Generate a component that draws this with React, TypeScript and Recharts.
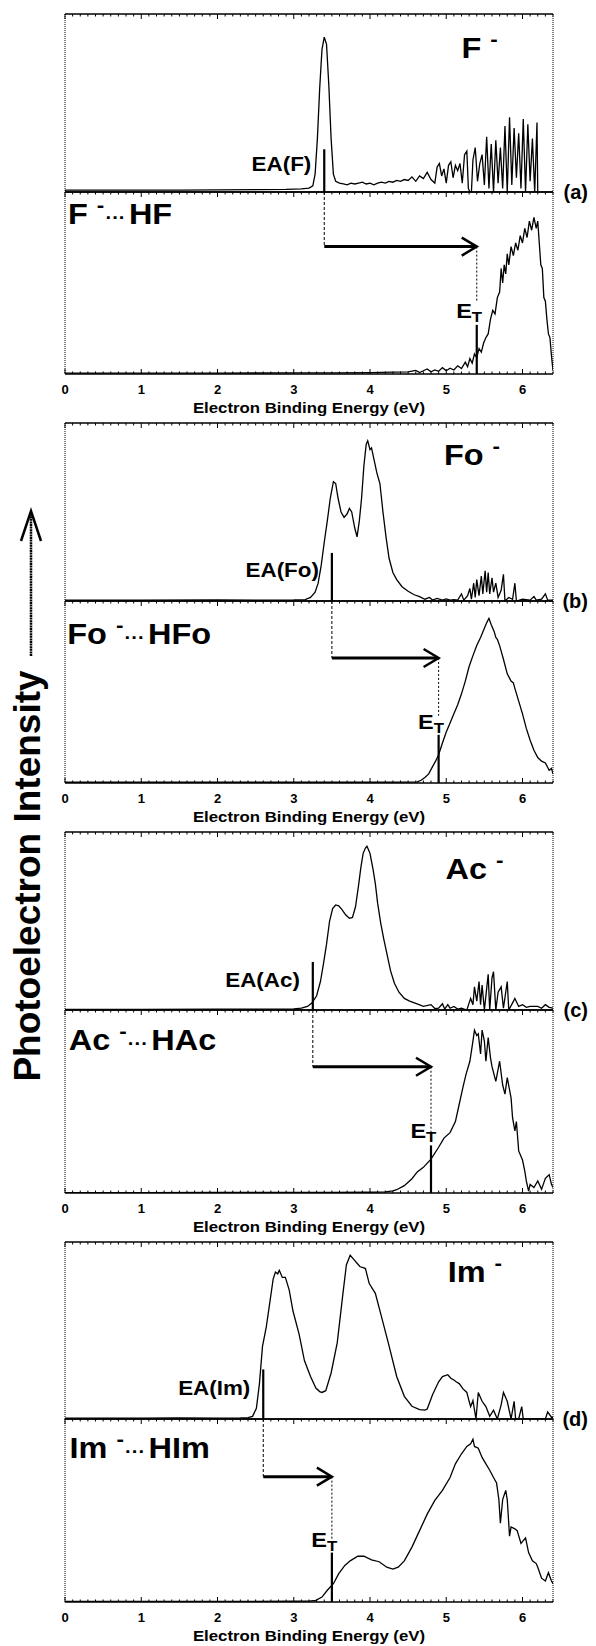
import React from "react";
import { ComposedChart, Line, XAxis, YAxis, ReferenceLine, ReferenceDot } from "recharts";

type Pt = [number, number];

const FONT = "'Liberation Sans', Arial, Helvetica, sans-serif";

const X_DOMAIN: [number, number] = [0, 6.4];
const MAJOR_TICKS = [0, 1, 2, 3, 4, 5, 6];
const MINOR_TICKS = [
  0, 0.1, 0.2, 0.3, 0.4, 0.5, 0.6, 0.7, 0.8, 0.9, 1, 1.1, 1.2, 1.3, 1.4, 1.5, 1.6, 1.7, 1.8, 1.9,
  2, 2.1, 2.2, 2.3, 2.4, 2.5, 2.6, 2.7, 2.8, 2.9, 3, 3.1, 3.2, 3.3, 3.4, 3.5, 3.6, 3.7, 3.8, 3.9,
  4, 4.1, 4.2, 4.3, 4.4, 4.5, 4.6, 4.7, 4.8, 4.9, 5, 5.1, 5.2, 5.3, 5.4, 5.5, 5.6, 5.7, 5.8, 5.9,
  6, 6.1, 6.2, 6.3, 6.4,
];
const X_LABEL = "Electron Binding Energy (eV)";
const Y_LABEL = "Photoelectron Intensity";
const PANEL_LABELS = ["(a)", "(b)", "(c)", "(d)"];
const ANION_NAMES = ["F", "Fo", "Ac", "Im"];
const PARTNER_NAMES = ["HF", "HFo", "HAc", "HIm"];

// annotation values (eV)
const EA_VALUES = [3.4, 3.5, 3.25, 2.6];
const ET_VALUES = [5.4, 4.9, 4.8, 3.5];
// annotation heights (fraction of each half)
const EA_MARK_HEIGHT = [0.24, 0.27, 0.27, 0.28];
const ET_MARK_HEIGHT = [0.27, 0.265, 0.26, 0.27];
const ARROW_LEVEL = [0.7, 0.687, 0.69, 0.685];
const ET_GUIDE_BOTTOM = [0.4, 0.37, 0.33, 0.34];
const ET_LABEL_Y = [0.35, 0.34, 0.34, 0.34];
const EA_LABEL_Y = [0.16, 0.175, 0.17, 0.175];
const ANION_TITLE_POS: Pt[] = [[5.2, 0.81], [4.97, 0.82], [4.99, 0.79], [5.02, 0.83]];
const DIMER_TITLE_POS: Pt[] = [[0.04, 0.88], [0.03, 0.82], [0.05, 0.835], [0.06, 0.84]];

const F_ANION: Pt[] = [
  [0, 0.01], [0.5, 0.01], [1.0, 0.011], [1.5, 0.01], [2.0, 0.012], [2.5, 0.013], [2.9, 0.015], [3.1, 0.018],
  [3.2, 0.022], [3.25, 0.035], [3.28, 0.1], [3.31, 0.3], [3.34, 0.58], [3.37, 0.8], [3.4, 0.87], [3.43, 0.83],
  [3.46, 0.6], [3.49, 0.3], [3.52, 0.1], [3.55, 0.06], [3.6, 0.05], [3.65, 0.045], [3.7, 0.04], [3.75, 0.05],
  [3.8, 0.045], [3.85, 0.05], [3.9, 0.055], [3.95, 0.045], [4.0, 0.05], [4.05, 0.04], [4.1, 0.05], [4.15, 0.055],
  [4.2, 0.05], [4.25, 0.06], [4.3, 0.055], [4.35, 0.065], [4.4, 0.06], [4.45, 0.07], [4.5, 0.065], [4.55, 0.085],
  [4.6, 0.06], [4.65, 0.09], [4.7, 0.075], [4.75, 0.11], [4.8, 0.07], [4.85, 0.05], [4.88, 0.14], [4.91, 0.16],
  [4.94, 0.09], [4.97, 0.13], [5.0, 0.05], [5.03, 0.15], [5.06, 0.17], [5.09, 0.08], [5.12, 0.15], [5.15, 0.12],
  [5.18, 0.16], [5.21, 0.05], [5.24, 0.21], [5.27, 0.23], [5.29, 0.02], [5.31, 0.0], [5.33, 0.0], [5.35, 0.18],
  [5.38, 0.25], [5.41, 0.06], [5.44, 0.16], [5.47, 0.21], [5.5, 0.04], [5.53, 0.31], [5.56, 0.02], [5.59, 0.27],
  [5.62, 0.0], [5.65, 0.29], [5.68, 0.05], [5.71, 0.25], [5.74, 0.02], [5.77, 0.37], [5.8, 0.0], [5.83, 0.42],
  [5.86, 0.04], [5.89, 0.36], [5.92, 0.08], [5.95, 0.33], [5.98, 0.02], [6.01, 0.41], [6.04, 0.0], [6.07, 0.38],
  [6.1, 0.06], [6.13, 0.3], [6.16, 0.0], [6.19, 0.39], [6.2, 0.0],
];

const F_DIMER: Pt[] = [
  [0, 0.005], [1, 0.005], [2, 0.005], [3, 0.006], [3.5, 0.006], [4.0, 0.008], [4.3, 0.01], [4.5, 0.012],
  [4.6, 0.02], [4.65, 0.008], [4.7, 0.018], [4.75, 0.028], [4.8, 0.012], [4.85, 0.022], [4.9, 0.015], [4.95, 0.035],
  [5.0, 0.018], [5.05, 0.032], [5.1, 0.022], [5.15, 0.045], [5.2, 0.03], [5.25, 0.065], [5.28, 0.04], [5.31, 0.085],
  [5.34, 0.06], [5.37, 0.11], [5.4, 0.09], [5.43, 0.14], [5.46, 0.12], [5.49, 0.17], [5.52, 0.2], [5.55, 0.22],
  [5.58, 0.3], [5.61, 0.35], [5.64, 0.33], [5.67, 0.42], [5.7, 0.45], [5.72, 0.58], [5.74, 0.5], [5.76, 0.6],
  [5.78, 0.55], [5.8, 0.66], [5.82, 0.6], [5.85, 0.7], [5.88, 0.65], [5.91, 0.72], [5.94, 0.68], [5.97, 0.76],
  [6.0, 0.72], [6.03, 0.8], [6.06, 0.75], [6.09, 0.84], [6.12, 0.79], [6.15, 0.86], [6.18, 0.8], [6.2, 0.84],
  [6.22, 0.72], [6.24, 0.6], [6.26, 0.58], [6.28, 0.42], [6.3, 0.4], [6.32, 0.3], [6.34, 0.22], [6.36, 0.2],
  [6.38, 0.1], [6.4, 0.02],
];

const FO_ANION: Pt[] = [
  [0, 0.005], [1, 0.005], [2, 0.006], [2.5, 0.005], [3.0, 0.006], [3.15, 0.008], [3.22, 0.02], [3.28, 0.05],
  [3.32, 0.1], [3.36, 0.2], [3.4, 0.33], [3.44, 0.45], [3.48, 0.58], [3.52, 0.67], [3.55, 0.66], [3.58, 0.58],
  [3.62, 0.5], [3.66, 0.47], [3.7, 0.49], [3.73, 0.52], [3.76, 0.5], [3.8, 0.41], [3.83, 0.36], [3.86, 0.45],
  [3.89, 0.58], [3.92, 0.76], [3.95, 0.88], [3.97, 0.9], [4.0, 0.85], [4.02, 0.86], [4.05, 0.8], [4.09, 0.72],
  [4.13, 0.66], [4.17, 0.5], [4.21, 0.36], [4.25, 0.24], [4.3, 0.16], [4.35, 0.12], [4.42, 0.08], [4.5, 0.055],
  [4.58, 0.035], [4.65, 0.025], [4.72, 0.01], [4.78, 0.02], [4.82, 0.005], [4.88, 0.015], [4.95, 0.005], [5.0, 0.012],
  [5.05, 0.005], [5.1, 0.008], [5.15, 0.005], [5.2, 0.04], [5.23, 0.005], [5.28, 0.03], [5.31, 0.07], [5.33, 0.01],
  [5.36, 0.1], [5.38, 0.02], [5.4, 0.12], [5.43, 0.03], [5.46, 0.14], [5.48, 0.04], [5.51, 0.17], [5.53, 0.05],
  [5.55, 0.16], [5.57, 0.04], [5.6, 0.13], [5.62, 0.05], [5.65, 0.1], [5.68, 0.02], [5.72, 0.06], [5.75, 0.15],
  [5.77, 0.0], [5.82, 0.02], [5.87, 0.01], [5.9, 0.1], [5.92, 0.0], [6.0, 0.01], [6.1, 0.005], [6.15, 0.025],
  [6.18, 0.005], [6.25, 0.01], [6.3, 0.04], [6.33, 0.005], [6.4, 0.005],
];

const FO_DIMER: Pt[] = [
  [0, 0.004], [1, 0.004], [2, 0.004], [3, 0.004], [4, 0.004], [4.5, 0.005], [4.62, 0.006], [4.67, 0.015],
  [4.72, 0.03], [4.77, 0.05], [4.82, 0.09], [4.86, 0.12], [4.9, 0.155], [4.95, 0.22], [5.0, 0.28], [5.05, 0.33],
  [5.1, 0.38], [5.15, 0.43], [5.2, 0.49], [5.25, 0.56], [5.3, 0.64], [5.35, 0.7], [5.4, 0.755], [5.45, 0.8],
  [5.5, 0.85], [5.53, 0.88], [5.56, 0.905], [5.59, 0.87], [5.61, 0.85], [5.63, 0.83], [5.65, 0.8], [5.67, 0.79],
  [5.7, 0.755], [5.75, 0.68], [5.8, 0.6], [5.85, 0.56], [5.88, 0.55], [5.9, 0.52], [5.95, 0.45], [6.0, 0.38],
  [6.05, 0.3], [6.1, 0.235], [6.15, 0.18], [6.2, 0.14], [6.25, 0.12], [6.3, 0.11], [6.35, 0.07], [6.38, 0.08],
  [6.4, 0.05],
];

const AC_ANION: Pt[] = [
  [0, 0.004], [1, 0.004], [2, 0.005], [2.5, 0.005], [3.0, 0.006], [3.1, 0.01], [3.18, 0.02], [3.24, 0.04],
  [3.3, 0.08], [3.35, 0.16], [3.39, 0.26], [3.43, 0.37], [3.47, 0.5], [3.51, 0.57], [3.55, 0.59], [3.59, 0.585],
  [3.63, 0.565], [3.68, 0.535], [3.73, 0.515], [3.77, 0.52], [3.81, 0.58], [3.85, 0.7], [3.88, 0.8], [3.91, 0.88],
  [3.94, 0.91], [3.96, 0.92], [3.98, 0.9], [4.0, 0.88], [4.04, 0.79], [4.07, 0.71], [4.1, 0.6], [4.14, 0.49],
  [4.18, 0.4], [4.22, 0.32], [4.27, 0.22], [4.32, 0.15], [4.38, 0.1], [4.45, 0.065], [4.52, 0.05], [4.6, 0.037],
  [4.7, 0.02], [4.8, 0.03], [4.85, 0.008], [4.9, 0.01], [4.95, 0.035], [4.98, 0.005], [5.02, 0.03], [5.05, 0.01],
  [5.1, 0.02], [5.15, 0.005], [5.2, 0.01], [5.27, 0.0], [5.3, 0.04], [5.32, 0.065], [5.35, 0.03], [5.37, 0.13],
  [5.4, 0.05], [5.43, 0.16], [5.45, 0.03], [5.47, 0.14], [5.5, 0.0], [5.53, 0.12], [5.55, 0.2], [5.57, 0.0],
  [5.6, 0.18], [5.62, 0.215], [5.65, 0.0], [5.68, 0.1], [5.72, 0.13], [5.75, 0.01], [5.8, 0.16], [5.82, 0.0],
  [5.87, 0.04], [5.9, 0.065], [5.95, 0.02], [6.0, 0.03], [6.05, 0.015], [6.1, 0.02], [6.2, 0.02], [6.25, 0.01],
  [6.3, 0.03], [6.35, 0.015], [6.4, 0.01],
];

const AC_DIMER: Pt[] = [
  [0, 0.002], [1, 0.002], [2, 0.003], [3, 0.003], [3.5, 0.003], [4.0, 0.004], [4.2, 0.006], [4.3, 0.012],
  [4.35, 0.018], [4.45, 0.04], [4.55, 0.078], [4.62, 0.115], [4.7, 0.14], [4.8, 0.185], [4.9, 0.25], [4.97, 0.3],
  [5.05, 0.33], [5.12, 0.39], [5.17, 0.485], [5.22, 0.58], [5.26, 0.65], [5.31, 0.72], [5.35, 0.83], [5.37, 0.89],
  [5.4, 0.86], [5.42, 0.87], [5.45, 0.76], [5.47, 0.89], [5.5, 0.83], [5.52, 0.72], [5.55, 0.85], [5.58, 0.74],
  [5.6, 0.69], [5.65, 0.61], [5.7, 0.72], [5.74, 0.59], [5.77, 0.54], [5.8, 0.63], [5.85, 0.52], [5.87, 0.41],
  [5.9, 0.34], [5.92, 0.39], [5.95, 0.23], [6.0, 0.18], [6.03, 0.12], [6.05, 0.066], [6.08, 0.01], [6.1, 0.047],
  [6.15, 0.03], [6.2, 0.066], [6.25, 0.02], [6.3, 0.08], [6.35, 0.1], [6.38, 0.047], [6.4, 0.03],
];

const IM_ANION: Pt[] = [
  [0, 0.005], [1, 0.005], [1.5, 0.006], [2.0, 0.005], [2.3, 0.006], [2.4, 0.008], [2.46, 0.015], [2.51, 0.06],
  [2.55, 0.2], [2.59, 0.41], [2.64, 0.52], [2.69, 0.67], [2.73, 0.79], [2.76, 0.83], [2.79, 0.82], [2.81, 0.84],
  [2.83, 0.82], [2.85, 0.8], [2.89, 0.8], [2.94, 0.73], [2.99, 0.61], [3.07, 0.48], [3.14, 0.33], [3.22, 0.24],
  [3.29, 0.175], [3.34, 0.155], [3.37, 0.15], [3.42, 0.16], [3.49, 0.26], [3.57, 0.43], [3.64, 0.69], [3.69, 0.87],
  [3.74, 0.925], [3.79, 0.9], [3.83, 0.88], [3.87, 0.86], [3.91, 0.855], [3.94, 0.85], [3.99, 0.765], [4.07, 0.71],
  [4.14, 0.595], [4.24, 0.43], [4.35, 0.24], [4.45, 0.128], [4.55, 0.072], [4.65, 0.053], [4.72, 0.05], [4.75, 0.056],
  [4.82, 0.137], [4.9, 0.21], [4.95, 0.24], [5.02, 0.25], [5.06, 0.23], [5.1, 0.22], [5.13, 0.21], [5.17, 0.2],
  [5.22, 0.17], [5.27, 0.15], [5.3, 0.1], [5.32, 0.07], [5.35, 0.105], [5.39, 0.0], [5.42, 0.15], [5.47, 0.1],
  [5.52, 0.07], [5.57, 0.015], [5.62, 0.05], [5.67, 0.0], [5.72, 0.08], [5.75, 0.15], [5.8, 0.1], [5.85, 0.0],
  [5.89, 0.1], [5.91, 0.0], [5.95, 0.0], [5.99, 0.07], [6.01, 0.0], [6.3, 0.0], [6.33, 0.04], [6.38, 0.01],
  [6.4, 0.01],
];

const IM_DIMER: Pt[] = [
  [0, 0.003], [1, 0.003], [2, 0.003], [3, 0.004], [3.2, 0.005], [3.29, 0.009], [3.37, 0.027], [3.44, 0.064],
  [3.52, 0.1], [3.59, 0.155], [3.67, 0.2], [3.74, 0.225], [3.84, 0.25], [3.92, 0.25], [4.02, 0.23], [4.12, 0.22],
  [4.22, 0.19], [4.3, 0.18], [4.37, 0.19], [4.45, 0.225], [4.55, 0.3], [4.65, 0.39], [4.75, 0.48], [4.85, 0.555],
  [4.95, 0.61], [5.05, 0.68], [5.12, 0.755], [5.2, 0.81], [5.27, 0.85], [5.32, 0.865], [5.35, 0.89], [5.37, 0.85],
  [5.42, 0.84], [5.47, 0.79], [5.52, 0.755], [5.57, 0.72], [5.62, 0.68], [5.66, 0.65], [5.69, 0.56], [5.71, 0.43],
  [5.74, 0.56], [5.78, 0.61], [5.8, 0.56], [5.83, 0.36], [5.85, 0.41], [5.9, 0.4], [5.93, 0.39], [5.98, 0.32],
  [6.04, 0.35], [6.08, 0.27], [6.13, 0.225], [6.18, 0.21], [6.2, 0.19], [6.25, 0.13], [6.3, 0.115], [6.34, 0.16],
  [6.38, 0.115], [6.4, 0.1],
];

const ANION_SPECTRA = [F_ANION, FO_ANION, AC_ANION, IM_ANION];
const DIMER_SPECTRA = [F_DIMER, FO_DIMER, AC_DIMER, IM_DIMER];

// layout (page pixels)
const PANEL_TOPS = [14, 423, 832, 1242];
const PANEL_MIDS = [192, 601, 1010, 1419];
const PANEL_BOTTOMS = [374, 783, 1193, 1602];
const CHART_W = 580;
const PAGE_H = 1638;
const MARGIN_L = 57;
const MARGIN_R = 35;
const PAD = 5;
const BOTTOM_AXIS_H = 46;
const STRETCH = 1.12;

const AXIS_LINE = { stroke: "#000", strokeWidth: 1.3 };
const SIDE_LINE = { stroke: "#000", strokeWidth: 1, strokeDasharray: "1 1" };

function makeTick(dir: number, labels: boolean) {
  return (props: any) => {
    const { x, y, payload } = props;
    const v = Number(payload && payload.value);
    const major = Math.abs(v - Math.round(v)) < 1e-6;
    const len = major ? 5 : 2.5;
    return (
      <g>
        <line x1={x} x2={x} y1={y} y2={y + dir * len} stroke="#000" strokeWidth={1} />
        {labels && major ? (
          <text x={x} y={y + 20} textAnchor="middle" fontSize={13} fontWeight="bold" fontFamily={FONT} fill="#000">
            {String(Math.round(v))}
          </text>
        ) : null}
      </g>
    );
  };
}
const TICK_DOWN = makeTick(1, false);
const TICK_UP_LABELED = makeTick(-1, true);

const ArrowShape = (p: any) => {
  const { x1, y1, x2, y2 } = p;
  const L = 15;
  const W = 9;
  return (
    <g>
      <line x1={x1} y1={y1} x2={x2 - 1} y2={y2} stroke="#000" strokeWidth={3} />
      <polyline points={`${x2 - L},${y2 - W} ${x2},${y2} ${x2 - L},${y2 + W}`} fill="none" stroke="#000" strokeWidth={2.5} />
    </g>
  );
};

function Stretched({ x, y, children }: { x: number; y: number; children: React.ReactNode }) {
  return <g transform={`translate(${x},${y}) scale(${STRETCH},1)`}>{children}</g>;
}

const eaLabel = (name: string) => (p: any) => (
  <Stretched x={p.cx} y={p.cy}>
    <text x={0} y={0} textAnchor="end" dominantBaseline="central" fontSize={20} fontWeight="bold" fontFamily={FONT} fill="#000">
      {`EA(${name})`}
    </text>
  </Stretched>
);

const etLabel = (p: any) => (
  <Stretched x={p.cx} y={p.cy}>
    <text x={0} y={0} textAnchor="middle" dominantBaseline="central" fontSize={21} fontWeight="bold" fontFamily={FONT} fill="#000">
      <tspan>E</tspan>
      <tspan fontSize={15} dy={6}>T</tspan>
    </text>
  </Stretched>
);

const anionTitle = (name: string) => (p: any) => (
  <Stretched x={p.cx} y={p.cy + 10}>
    <text x={0} y={0} textAnchor="start" fontSize={29} fontWeight="bold" fontFamily={FONT} fill="#000">
      <tspan>{name}</tspan>
      <tspan dx={8} dy={-12} fontSize={20}>-</tspan>
    </text>
  </Stretched>
);

const dimerTitle = (name: string, partner: string) => (p: any) => (
  <Stretched x={p.cx} y={p.cy + 10}>
    <text x={0} y={0} textAnchor="start" fontSize={29} fontWeight="bold" fontFamily={FONT} fill="#000">
      <tspan>{name}</tspan>
      <tspan dx={8} dy={-12} fontSize={20}>-</tspan>
      <tspan dx={1} dy={12} fontSize={18}>{"\u00B7\u00B7\u00B7"}</tspan>
      <tspan dx={3}>{partner}</tspan>
    </text>
  </Stretched>
);

const xAxisTitle = (p: any) => {
  const vb = p.viewBox || {};
  const cx = vb.x + vb.width / 2;
  const by = vb.y + 39;
  return (
    <Stretched x={cx} y={by}>
      <text x={0} y={0} textAnchor="middle" fontSize={15} fontWeight="bold" fontFamily={FONT} fill="#000">
        {X_LABEL}
      </text>
    </Stretched>
  );
};

function sideAxes() {
  return [
    <YAxis key="yl" type="number" domain={[0, 1]} width={1} tick={false} tickLine={false} axisLine={SIDE_LINE} allowDataOverflow />,
    <YAxis key="yr" yAxisId="r" orientation="right" type="number" domain={[0, 1]} width={1} tick={false} tickLine={false} axisLine={SIDE_LINE} allowDataOverflow />,
  ];
}

function topAxis() {
  return (
    <XAxis
      xAxisId="top"
      orientation="top"
      dataKey="x"
      type="number"
      domain={X_DOMAIN}
      ticks={MINOR_TICKS}
      interval={0}
      tick={TICK_DOWN}
      tickLine={false}
      tickSize={0}
      tickMargin={0}
      height={1}
      axisLine={AXIS_LINE}
      allowDataOverflow
    />
  );
}

function UpperChart({ i }: { i: number }) {
  const top = PANEL_TOPS[i];
  const mid = PANEL_MIDS[i];
  const rows = ANION_SPECTRA[i].map(([x, y]) => ({ x, y }));
  const ea = EA_VALUES[i];
  return (
    <div style={{ position: "absolute", left: 0, top: top - 8 - PAD }}>
      <ComposedChart width={CHART_W} height={mid - top + 2 * PAD} data={rows} margin={{ top: PAD - 1, bottom: PAD - 1, left: MARGIN_L - 1, right: MARGIN_R - 1 }}>
        <XAxis dataKey="x" type="number" domain={X_DOMAIN} ticks={MAJOR_TICKS} tick={false} tickLine={false} height={1} axisLine={AXIS_LINE} allowDataOverflow />
        {topAxis()}
        {sideAxes()}
        <Line dataKey="y" type="linear" stroke="#000" strokeWidth={1.3} dot={false} isAnimationActive={false} />
        <ReferenceLine segment={[{ x: ea, y: 0 }, { x: ea, y: EA_MARK_HEIGHT[i] }]} stroke="#000" strokeWidth={2.2} />
        <ReferenceDot x={ea - 0.17} y={EA_LABEL_Y[i]} r={1} shape={eaLabel(ANION_NAMES[i])} />
        <ReferenceDot x={ANION_TITLE_POS[i][0]} y={ANION_TITLE_POS[i][1]} r={1} shape={anionTitle(ANION_NAMES[i])} />
      </ComposedChart>
    </div>
  );
}

function LowerChart({ i }: { i: number }) {
  const mid = PANEL_MIDS[i];
  const bot = PANEL_BOTTOMS[i];
  const rows = DIMER_SPECTRA[i].map(([x, y]) => ({ x, y }));
  const ea = EA_VALUES[i];
  const et = ET_VALUES[i];
  const lvl = ARROW_LEVEL[i];
  return (
    <div style={{ position: "absolute", left: 0, top: mid - 8 - PAD }}>
      <ComposedChart width={CHART_W} height={bot - mid + PAD + BOTTOM_AXIS_H} data={rows} margin={{ top: PAD - 1, bottom: 0, left: MARGIN_L - 1, right: MARGIN_R - 1 }}>
        <XAxis
          dataKey="x"
          type="number"
          domain={X_DOMAIN}
          ticks={MINOR_TICKS}
          interval={0}
          tick={TICK_UP_LABELED}
          tickLine={false}
          tickSize={0}
          tickMargin={0}
          height={BOTTOM_AXIS_H}
          axisLine={AXIS_LINE}
          allowDataOverflow
          label={{ content: xAxisTitle }}
        />
        {topAxis()}
        {sideAxes()}
        <Line dataKey="y" type="linear" stroke="#000" strokeWidth={1.3} dot={false} isAnimationActive={false} />
        <ReferenceLine segment={[{ x: ea, y: 1 }, { x: ea, y: lvl }]} stroke="#000" strokeWidth={1} strokeDasharray="3 2" />
        <ReferenceLine segment={[{ x: ea, y: lvl }, { x: et, y: lvl }]} shape={ArrowShape} />
        <ReferenceLine segment={[{ x: et, y: lvl }, { x: et, y: ET_GUIDE_BOTTOM[i] }]} stroke="#000" strokeWidth={1} strokeDasharray="2 2" />
        <ReferenceLine segment={[{ x: et, y: 0 }, { x: et, y: ET_MARK_HEIGHT[i] }]} stroke="#000" strokeWidth={2.2} />
        <ReferenceDot x={et - 0.1} y={ET_LABEL_Y[i]} r={1} shape={etLabel} />
        <ReferenceDot x={DIMER_TITLE_POS[i][0]} y={DIMER_TITLE_POS[i][1]} r={1} shape={dimerTitle(ANION_NAMES[i], PARTNER_NAMES[i])} />
      </ComposedChart>
    </div>
  );
}

export default function App() {
  return (
    <div style={{ position: "relative", width: CHART_W, height: PAGE_H, overflow: "hidden", fontFamily: FONT, background: "#fff" }}>
      <style>{"html { overflow: hidden; }"}</style>
      <svg width={60} height={PAGE_H} style={{ position: "absolute", left: 0, top: 0 }}>
        <line x1={23} y1={648} x2={23} y2={505} stroke="#000" strokeWidth={2.5} strokeDasharray="2 0.6" />
        <polyline points="13,533 23,503 33,533" fill="none" stroke="#000" strokeWidth={2.5} />
        <text x={32} y={868} transform="rotate(-90 32 868)" textAnchor="middle" fontSize={37} fontWeight="bold" fontFamily={FONT} fill="#000">
          {Y_LABEL}
        </text>
      </svg>
      {PANEL_LABELS.map((lab, i) => (
        <React.Fragment key={lab}>
          <UpperChart i={i} />
          <LowerChart i={i} />
          <div style={{ position: "absolute", right: 0, top: PANEL_MIDS[i] - 8 - 12, fontSize: 20, fontWeight: "bold", lineHeight: "24px" }}>
            {lab}
          </div>
        </React.Fragment>
      ))}
    </div>
  );
}
